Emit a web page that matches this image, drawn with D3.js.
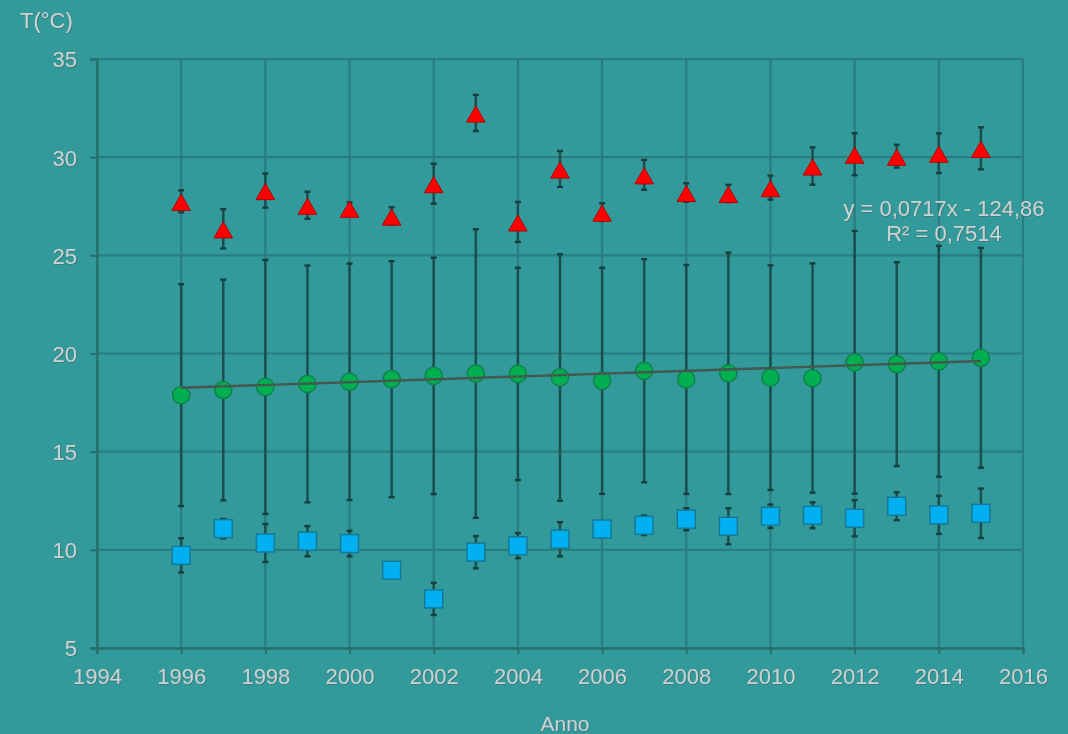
<!DOCTYPE html>
<html>
<head>
<meta charset="utf-8">
<script src="https://cdn.jsdelivr.net/npm/d3@7"></script>
<style>
  html, body { margin: 0; padding: 0; background: #339a9b; }
  svg { display: block; }
  text { font-family: "Liberation Sans", Arial, sans-serif; }
</style>
</head>
<body>
<svg id="chart" width="1068" height="734"></svg>
<script>
// Annual temperatures: maximum (triangles), mean (circles), minimum (squares)
const years = [1996, 1997, 1998, 1999, 2000, 2001, 2002, 2003, 2004, 2005,
               2006, 2007, 2008, 2009, 2010, 2011, 2012, 2013, 2014, 2015];

const tMax    = [27.75, 26.35, 28.3, 27.55, 27.4, 27.0, 28.65, 32.25, 26.7, 29.4,
                 27.2, 29.1, 28.2, 28.15, 28.45, 29.55, 30.15, 30.05, 30.2, 30.45];
const tMaxErr = [0.56, 1.0, 0.87, 0.69, 0.3, 0.45, 1.02, 0.92, 1.02, 0.92,
                 0.45, 0.76, 0.47, 0.44, 0.61, 0.95, 1.07, 0.58, 1.01, 1.07];

const tMean    = [17.88, 18.14, 18.3, 18.45, 18.56, 18.69, 18.86, 18.98, 18.96, 18.78,
                  18.61, 19.12, 18.68, 18.99, 18.77, 18.75, 19.55, 19.46, 19.6, 19.78];
const tMeanErr = [5.65, 5.62, 6.47, 6.03, 6.02, 6.01, 6.02, 7.35, 5.41, 6.28,
                  5.76, 5.68, 5.83, 6.15, 5.72, 5.84, 6.69, 5.19, 5.88, 5.6];

const tMin    = [9.72, 11.08, 10.35, 10.44, 10.32, 8.96, 7.5, 9.88, 10.21, 10.54,
                 11.06, 11.25, 11.56, 11.2, 11.71, 11.76, 11.61, 12.22, 11.78, 11.86];
const tMinErr = [0.87, 0.49, 0.97, 0.77, 0.65, 0, 0.82, 0.82, 0.64, 0.87,
                 0.3, 0.5, 0.56, 0.92, 0.6, 0.66, 0.92, 0.71, 0.97, 1.26];

// Linear trend of the mean series
const trendSlope = 0.0717;
const trendIntercept = -124.86;
const trendLabel = "y = 0,0717x - 124,86";
const r2Label = "R² = 0,7514";

const xTicks = [1994, 1996, 1998, 2000, 2002, 2004, 2006, 2008, 2010, 2012, 2014, 2016];
const yTicks = [5, 10, 15, 20, 25, 30, 35];
const xTitle = "Anno";
const yTitle = "T(°C)";

const svg = d3.select("#chart");
const W = 1068, H = 734;
const plotLeft = 97, plotRight = 1023, plotTop = 59, plotBottom = 648;

const x = d3.scaleLinear().domain([1994, 2016]).range([plotLeft, plotRight]);
const y = d3.scaleLinear().domain([5, 35]).range([plotBottom, plotTop]);

const gridColor = "#2a7c7e";
const textColor = "#c9d3d3";
const barColor = "#1b4e4f";

const defs = svg.append("defs");
const emboss = defs.append("filter").attr("id", "emboss")
  .attr("x", "-10%").attr("y", "-20%").attr("width", "120%").attr("height", "140%");
emboss.append("feDropShadow").attr("dx", 0.6).attr("dy", 0.6)
  .attr("stdDeviation", 0.4).attr("flood-color", "#3d6465").attr("flood-opacity", 0.9);

svg.append("rect").attr("width", W).attr("height", H).attr("fill", "#339a9b");

// Grid
const grid = svg.append("g");
grid.selectAll("line.h").data(yTicks).join("line")
  .attr("x1", plotLeft).attr("x2", plotRight)
  .attr("y1", d => y(d)).attr("y2", d => y(d))
  .attr("stroke", gridColor).attr("stroke-width", 2.2);
grid.selectAll("line.v").data(xTicks).join("line")
  .attr("y1", plotTop).attr("y2", plotBottom)
  .attr("x1", d => x(d)).attr("x2", d => x(d))
  .attr("stroke", gridColor).attr("stroke-width", 2.2);

// Axes
const xAxis = svg.append("g").attr("transform", `translate(0,${plotBottom})`)
  .call(d3.axisBottom(x).tickValues(xTicks).tickFormat(d3.format("d"))
        .tickSize(6).tickPadding(14));
const yAxis = svg.append("g").attr("transform", `translate(${plotLeft},0)`)
  .call(d3.axisLeft(y).tickValues(yTicks).tickSize(7).tickPadding(13));

[xAxis, yAxis].forEach(g => {
  g.select(".domain").attr("stroke", "#26706f").attr("stroke-width", 2.4);
  g.selectAll(".tick line").attr("stroke", "#26706f").attr("stroke-width", 2);
  g.selectAll(".tick text")
    .attr("fill", textColor)
    .attr("font-size", 22)
    .attr("font-family", "'Liberation Sans', Arial, sans-serif")
    .attr("filter", "url(#emboss)");
});
yAxis.selectAll(".tick text").attr("dy", "0.36em");

// Axis titles
svg.append("text").attr("x", 20).attr("y", 28)
  .attr("fill", textColor).attr("font-size", 22).attr("filter", "url(#emboss)")
  .text(yTitle);
svg.append("text").attr("x", 565).attr("y", 731).attr("text-anchor", "middle")
  .attr("fill", textColor).attr("font-size", 21).attr("filter", "url(#emboss)")
  .text(xTitle);

// Error bars
function errorBars(values, errs) {
  const g = svg.append("g");
  const data = years.map((yr, i) => ({ yr, v: values[i], e: errs[i] })).filter(d => d.e > 0);
  g.selectAll("line.stem").data(data).join("line")
    .attr("x1", d => x(d.yr)).attr("x2", d => x(d.yr))
    .attr("y1", d => y(d.v + d.e)).attr("y2", d => y(d.v - d.e))
    .attr("stroke", barColor).attr("stroke-width", 2.5);
  ["+", "-"].forEach(s => {
    g.selectAll("line.cap" + (s === "+" ? "t" : "b")).data(data).join("line")
      .attr("x1", d => x(d.yr) - 3).attr("x2", d => x(d.yr) + 3)
      .attr("y1", d => y(s === "+" ? d.v + d.e : d.v - d.e))
      .attr("y2", d => y(s === "+" ? d.v + d.e : d.v - d.e))
      .attr("stroke", "#163f40").attr("stroke-width", 2.4);
  });
}
errorBars(tMean, tMeanErr);
errorBars(tMax, tMaxErr);
errorBars(tMin, tMinErr);

// Mean: circles
svg.append("g").selectAll("circle").data(years).join("circle")
  .attr("cx", d => x(d)).attr("cy", (d, i) => y(tMean[i])).attr("r", 8.6)
  .attr("fill", "#00b050").attr("stroke", "#13804c").attr("stroke-width", 1.5);

// Trend line over the mean series
const trendYears = [years[0], years[years.length - 1]];
svg.append("line")
  .attr("x1", x(trendYears[0])).attr("y1", y(trendSlope * trendYears[0] + trendIntercept))
  .attr("x2", x(trendYears[1])).attr("y2", y(trendSlope * trendYears[1] + trendIntercept))
  .attr("stroke", "#3e5550").attr("stroke-width", 2.4);
svg.append("line")
  .attr("x1", x(trendYears[0])).attr("y1", y(trendSlope * trendYears[0] + trendIntercept))
  .attr("x2", x(trendYears[1])).attr("y2", y(trendSlope * trendYears[1] + trendIntercept))
  .attr("stroke", "#7a6a3a").attr("stroke-width", 1).attr("stroke-dasharray", "2,3")
  .attr("opacity", 0.6);

// Maximum: triangles (box centred just below the value)
const tri = d3.symbol().type(d3.symbolTriangle).size(150);
svg.append("g").selectAll("path").data(years).join("path")
  .attr("d", tri)
  .attr("transform", (d, i) => `translate(${x(d)},${y(tMax[i]) + 3.7})`)
  .attr("fill", "#ff0000").attr("stroke", "#b30000").attr("stroke-width", 1);

// Minimum: squares
const sq = 18;
svg.append("g").selectAll("rect.sq").data(years).join("rect")
  .attr("x", d => x(d) - sq / 2).attr("y", (d, i) => y(tMin[i]) - sq / 2)
  .attr("width", sq).attr("height", sq)
  .attr("fill", "#00b0f0").attr("stroke", "#157a98").attr("stroke-width", 1.5);

// Trend equation
svg.append("text").attr("x", 944).attr("y", 216).attr("text-anchor", "middle")
  .attr("fill", textColor).attr("font-size", 22).attr("filter", "url(#emboss)")
  .text(trendLabel);
svg.append("text").attr("x", 944).attr("y", 241).attr("text-anchor", "middle")
  .attr("fill", textColor).attr("font-size", 22).attr("filter", "url(#emboss)")
  .text(r2Label);
</script>
</body>
</html>
